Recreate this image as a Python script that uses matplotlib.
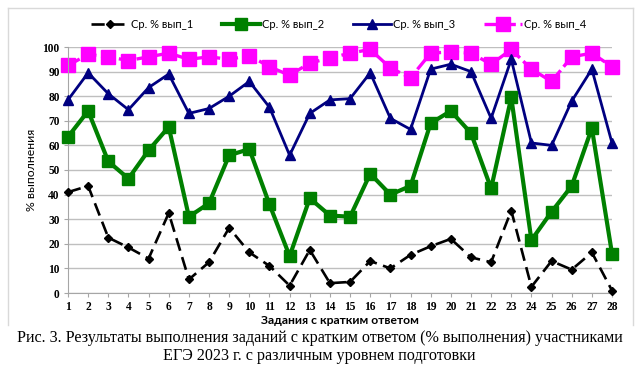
import matplotlib
matplotlib.use("Agg")
import matplotlib.pyplot as plt
from matplotlib.lines import Line2D

# задания 1..28
tasks = list(range(1, 29))

vyp_1 = [41, 43.5, 22.5, 18.5, 14, 32.5, 5.5, 12.5, 26.5, 16.5, 11, 3, 17.5, 4,
         4.5, 13, 10, 15.5, 19, 22, 14.5, 12.5, 33.5, 2.5, 13, 9.5, 16.5, 1]
vyp_2 = [63.5, 74, 53.5, 46.5, 58, 67.5, 31, 36.5, 56, 58.5, 36, 15, 38.5, 31.5,
         31, 48.5, 40, 43.5, 69, 74, 65, 42.5, 79.5, 21.5, 33, 43.5, 67, 16]
vyp_3 = [78.5, 89.5, 81, 74.5, 83.5, 89, 73, 75, 80, 86, 75.5, 56, 73, 78.5,
         79, 89.5, 71, 66.5, 91, 93, 90, 71, 95, 61, 60, 78, 91, 61]
vyp_4 = [92.5, 97, 96, 94.5, 96, 97.5, 95, 96, 95, 96.5, 92, 88.5, 93.5, 95.5,
         97.5, 99, 91.5, 87.5, 97.5, 98, 97.5, 93, 99, 91, 86, 96, 97.5, 92]

series_names = ["Ср. % вып_1", "Ср. % вып_2", "Ср. % вып_3", "Ср. % вып_4"]
y_ticks = list(range(0, 101, 10))

caption = ("Рис. 3. Результаты выполнения заданий с кратким ответом (% выполнения) участниками\n"
           "ЕГЭ 2023 г. с различным уровнем подготовки")

SANS = ["Lato", "DejaVu Sans"]
SERIF = ["Liberation Serif", "DejaVu Serif"]

fig = plt.figure(figsize=(6.39, 3.67), dpi=100)
ax = fig.add_axes([68 / 639, 1 - 293 / 367, (612 - 68) / 639, (293 - 47) / 367])

ax.plot(tasks, vyp_1, color="black", lw=1.9, dashes=(5, 2.5), marker="D", ms=4.5,
        label=series_names[0], clip_on=False, zorder=5)
ax.plot(tasks, vyp_2, color="#008000", lw=3.0, marker="s", ms=9,
        label=series_names[1], clip_on=False, zorder=4)
ax.plot(tasks, vyp_3, color="#000080", lw=2.0, marker="^", ms=7.5,
        label=series_names[2], clip_on=False, zorder=3)
ax.plot(tasks, vyp_4, color="#ff00ff", lw=2.4, dashes=(4, 1.4), marker="s", ms=9.5,
        label=series_names[3], clip_on=False, zorder=2)

ax.set_xlim(1, 28)
ax.set_ylim(0, 100)
ax.set_xticks(tasks)
ax.set_yticks(y_ticks)
ax.grid(axis="y", color="#bfbfbf", lw=1)
ax.set_axisbelow(True)
for s in ("top", "right"):
    ax.spines[s].set_visible(False)
for s in ("left", "bottom"):
    ax.spines[s].set_color("#a6a6a6")
ax.tick_params(axis="both", colors="#a6a6a6", length=3, width=0.8, labelcolor="black",
               labelsize=8.3, pad=3)
for lbl in ax.get_xticklabels() + ax.get_yticklabels():
    lbl.set_family(SERIF)
    lbl.set_fontweight("bold")

ax.set_xlabel("Задания с кратким ответом", family=SANS, fontsize=8.7, fontweight="bold", labelpad=1)
ax.set_ylabel("% выполнения", family=SANS, fontsize=8.8, labelpad=4)

fig.legend(loc="center", bbox_to_anchor=(0.53, 1 - 24 / 367), ncol=4, frameon=False,
           prop={"family": SANS, "size": 8}, handlelength=3.4, columnspacing=2.6,
           handletextpad=0.2)

# рамка диаграммы
fx0, fx1 = 8 / 639, 632.5 / 639
fy0, fy1 = 1 - 325 / 367, 1 - 8 / 367
for xs, ys in (([fx0, fx0], [fy0, fy1]), ([fx0, fx1], [fy1, fy1]), ([fx1, fx1], [fy0, fy1])):
    fig.add_artist(Line2D(xs, ys, color="#d9d9d9", lw=1, transform=fig.transFigure))

fig.text(0.5, 1 - 347 / 367, caption, ha="center", va="center", family=SERIF,
         fontsize=11.6, linespacing=1.12)

fig.savefig("out.png", dpi=100)
